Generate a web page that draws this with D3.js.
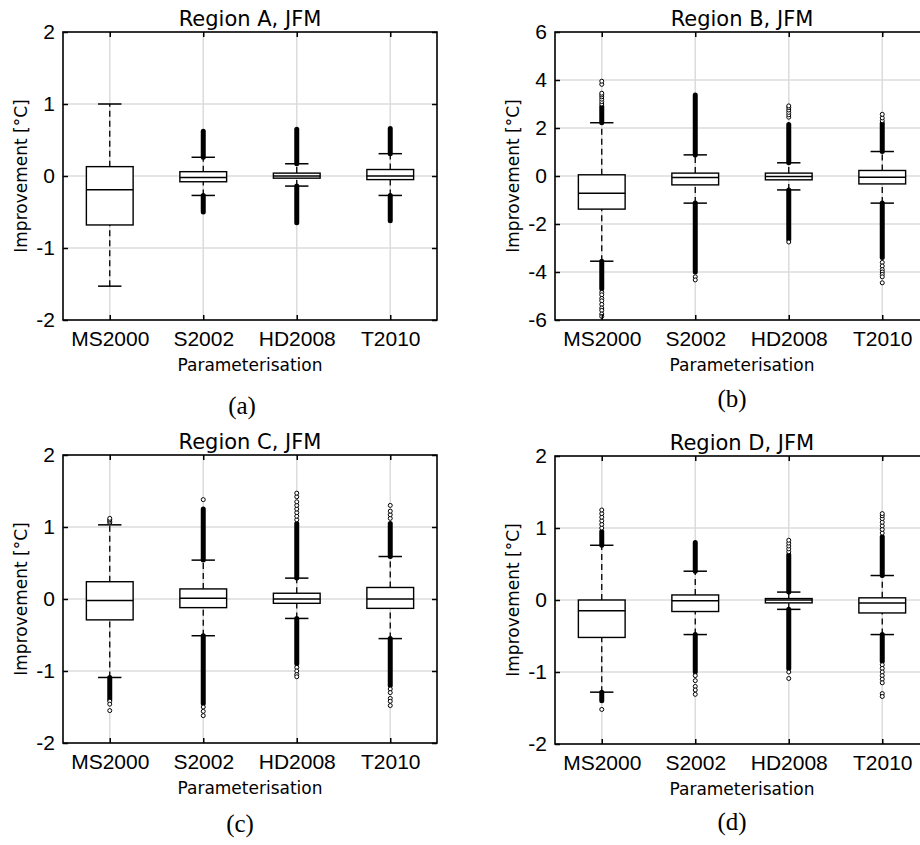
<!DOCTYPE html>
<html>
<head>
<meta charset="utf-8">
<script src="https://cdn.jsdelivr.net/npm/d3@7"></script>
<style>
  body { margin: 0; background: #fff; }
  svg { display: block; }
</style>
</head>
<body>
<svg id="fig" width="920" height="845"></svg>
<script>
const categories = ["MS2000", "S2002", "HD2008", "T2010"];

// [lower whisker, q1, median, q3, upper whisker] per category
const boxA = [[-1.53, -0.68, -0.19, 0.13, 1.0], [-0.27, -0.08, -0.02, 0.06, 0.26], [-0.14, -0.03, 0.0, 0.04, 0.17], [-0.27, -0.05, 0.0, 0.09, 0.31]];
const boxB = [[-3.55, -1.38, -0.72, 0.05, 2.22], [-1.13, -0.37, -0.06, 0.12, 0.88], [-0.58, -0.16, -0.02, 0.12, 0.55], [-1.13, -0.33, -0.05, 0.23, 1.02]];
const boxC = [[-1.09, -0.29, -0.02, 0.24, 1.03], [-0.51, -0.12, 0.01, 0.14, 0.54], [-0.27, -0.06, 0.0, 0.08, 0.29], [-0.55, -0.13, 0.0, 0.16, 0.59]];
const boxD = [[-1.28, -0.52, -0.15, 0.0, 0.76], [-0.48, -0.16, -0.01, 0.07, 0.40], [-0.13, -0.04, 0.0, 0.02, 0.11], [-0.48, -0.18, -0.04, 0.03, 0.34]];

// dense outlier stretches [from, to] (markers overlap into a solid bar)
const runsA = [[], [[0.26, 0.62], [-0.50, -0.27]], [[0.17, 0.65], [-0.65, -0.14]], [[0.31, 0.66], [-0.62, -0.27]]];
const runsB = [[[2.22, 2.9], [-4.7, -3.55]], [[0.88, 3.38], [-4.0, -1.13]], [[0.55, 2.15], [-2.65, -0.58]], [[1.02, 2.2], [-3.4, -1.13]]];
const runsC = [[[-1.40, -1.09]], [[0.54, 1.25], [-1.45, -0.51]], [[0.29, 1.05], [-0.90, -0.27]], [[0.59, 1.05], [-1.20, -0.55]]];
const runsD = [[[0.76, 0.95], [-1.40, -1.28]], [[0.40, 0.80], [-1.0, -0.48]], [[0.11, 0.63], [-0.95, -0.13]], [[0.34, 0.88], [-0.85, -0.48]]];

// single outliers
const dotsA = [[], [], [], []];
const dotsB = [[3.0, 3.1, 3.2, 3.3, 3.38, 3.45, 3.82, 3.95, -4.85, -4.95, -5.1, -5.2, -5.35, -5.5, -5.6, -5.75, -5.85],
               [-4.2, -4.33],
               [2.45, 2.55, 2.65, 2.75, 2.85, 2.92, -2.75],
               [2.3, 2.42, 2.57, -3.6, -3.75, -3.9, -4.0, -4.1, -4.2, -4.45]];
const dotsC = [[1.06, 1.08, 1.1, 1.12, -1.42, -1.46, -1.55],
               [1.38, -1.5, -1.56, -1.62],
               [1.1, 1.15, 1.2, 1.25, 1.3, 1.35, 1.42, 1.47, -0.95, -1.0, -1.05, -1.08],
               [1.12, 1.17, 1.22, 1.3, -1.25, -1.3, -1.38, -1.42, -1.48]];
const dotsD = [[1.0, 1.05, 1.1, 1.15, 1.2, 1.25, -1.52],
               [-1.05, -1.12, -1.2, -1.25, -1.31],
               [0.67, 0.71, 0.75, 0.79, 0.83, -1.0, -1.09],
               [0.93, 0.98, 1.03, 1.08, 1.13, 1.17, 1.2, -0.9, -0.95, -1.0, -1.05, -1.1, -1.15, -1.3, -1.34]];

const titles = ["Region A, JFM", "Region B, JFM", "Region C, JFM", "Region D, JFM"];
const captions = ["(a)", "(b)", "(c)", "(d)"];
const ticksSmall = [-2, -1, 0, 1, 2];
const ticksWide = [-6, -4, -2, 0, 2, 4, 6];

const panels = [
	{ box: boxA, runs: runsA, dots: dotsA, ticks: ticksSmall, x: 63, y: 32, cap: [242, 94] },
	{ box: boxB, runs: runsB, dots: dotsB, ticks: ticksWide, x: 555, y: 32, cap: [732, 87] },
	{ box: boxC, runs: runsC, dots: dotsC, ticks: ticksSmall, x: 63, y: 455, cap: [240, 89] },
	{ box: boxD, runs: runsD, dots: dotsD, ticks: ticksSmall, x: 555, y: 456, cap: [732, 86] }
];

const pw = 374, ph = 288;
const svg = d3.select("#fig");
const sans = "'DejaVu Sans', sans-serif";
const helv = "'Liberation Sans', Arial, sans-serif";

panels.forEach((p, k) => {
	const g = svg.append("g").attr("transform", `translate(${p.x},${p.y})`);

	const x = d3.scalePoint().domain(categories).range([0, pw]).padding(0.5);
	const y = d3.scaleLinear().domain(d3.extent(p.ticks)).range([ph, 0]);
	const half = x.step() * 0.25;
	const capHalf = x.step() * 0.125;

	// grid
	g.append("g").selectAll("line.gy").data(p.ticks.slice(1, -1)).join("line")
		.attr("x1", 0).attr("x2", pw)
		.attr("y1", d => y(d)).attr("y2", d => y(d))
		.attr("stroke", "#dcdcdc").attr("stroke-width", 1.5);
	g.append("g").selectAll("line.gx").data(categories).join("line")
		.attr("x1", d => x(d)).attr("x2", d => x(d))
		.attr("y1", 0).attr("y2", ph)
		.attr("stroke", "#dcdcdc").attr("stroke-width", 1.5);

	const items = g.append("g").selectAll("g").data(categories).join("g")
		.attr("transform", d => `translate(${x(d)},0)`);

	items.each(function (c, i) {
		const s = p.box[i];
		const it = d3.select(this);
		// whiskers
		[[s[0], s[1]], [s[3], s[4]]].forEach(([a, b]) => {
			it.append("line")
				.attr("x1", 0).attr("x2", 0)
				.attr("y1", y(a)).attr("y2", y(b))
				.attr("stroke", "#000").attr("stroke-width", 1.3)
				.attr("stroke-dasharray", "6,4");
		});
		[s[0], s[4]].forEach(v => {
			it.append("line")
				.attr("x1", -capHalf).attr("x2", capHalf)
				.attr("y1", y(v)).attr("y2", y(v))
				.attr("stroke", "#000").attr("stroke-width", 1.5);
		});
		// outliers
		p.runs[i].forEach(([a, b]) => {
			it.append("line")
				.attr("x1", 0).attr("x2", 0)
				.attr("y1", y(a)).attr("y2", y(b))
				.attr("stroke", "#000").attr("stroke-width", 5)
				.attr("stroke-linecap", "round");
		});
		it.selectAll("circle").data(p.dots[i]).join("circle")
			.attr("cx", 0).attr("cy", d => y(d)).attr("r", 2)
			.attr("fill", "#fff").attr("stroke", "#000").attr("stroke-width", 1);
		// box
		it.append("rect")
			.attr("x", -half).attr("width", half * 2)
			.attr("y", y(s[3])).attr("height", y(s[1]) - y(s[3]))
			.attr("fill", "#fff").attr("stroke", "#000").attr("stroke-width", 1.4);
		it.append("line")
			.attr("x1", -half).attr("x2", half)
			.attr("y1", y(s[2])).attr("y2", y(s[2]))
			.attr("stroke", "#000").attr("stroke-width", 1.5);
	});

	// frame
	g.append("rect").attr("width", pw).attr("height", ph)
		.attr("fill", "none").attr("stroke", "#000").attr("stroke-width", 1.6);

	// axes with inward ticks
	const yAxis = g.append("g")
		.call(d3.axisLeft(y).tickValues(p.ticks).tickFormat(d => String(d))
			.tickSizeInner(-5).tickSizeOuter(0).tickPadding(8));
	g.append("g").attr("transform", `translate(${pw},0)`)
		.call(d3.axisRight(y).tickValues(p.ticks).tickSizeInner(-5).tickSizeOuter(0).tickFormat(""));
	const xAxis = g.append("g").attr("transform", `translate(0,${ph})`)
		.call(d3.axisBottom(x).tickSizeInner(-5).tickSizeOuter(0).tickPadding(11));
	g.append("g")
		.call(d3.axisTop(x).tickSizeInner(-5).tickSizeOuter(0).tickFormat(""));

	g.selectAll(".domain").remove();
	g.selectAll(".tick line").attr("stroke", "#000").attr("stroke-width", 1.5);
	[yAxis, xAxis].forEach(a => a.selectAll("text")
		.attr("fill", "#000").style("font-family", helv).style("font-size", "21px"));

	// titles and labels
	g.append("text").attr("x", pw / 2).attr("y", -6)
		.attr("text-anchor", "middle")
		.style("font-family", sans).style("font-size", "21px")
		.text(titles[k]);
	g.append("text").attr("x", pw / 2).attr("y", ph + 51)
		.attr("text-anchor", "middle")
		.style("font-family", sans).style("font-size", "17px")
		.text("Parameterisation");
	g.append("text")
		.attr("transform", `translate(-36,${ph / 2}) rotate(-90)`)
		.attr("text-anchor", "middle")
		.style("font-family", sans).style("font-size", "17px")
		.text("Improvement [°C]");

	svg.append("text")
		.attr("x", p.cap[0]).attr("y", p.y + ph + p.cap[1])
		.attr("text-anchor", "middle")
		.style("font-family", "'Liberation Serif', serif").style("font-size", "25px")
		.text(captions[k]);
});
</script>
</body>
</html>
